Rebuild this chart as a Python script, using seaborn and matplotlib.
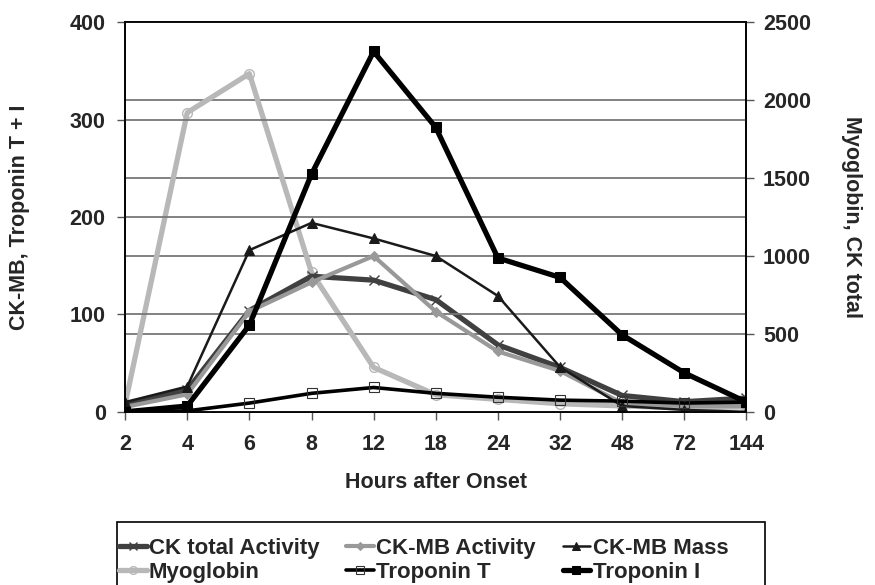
import numpy as np
import pandas as pd
import matplotlib
matplotlib.use("Agg")
import matplotlib.pyplot as plt
from matplotlib.patches import Rectangle
import seaborn as sns

# dati
hours = ["2", "4", "6", "8", "12", "18", "24", "32", "48", "72", "144"]
ck_total = [45, 140, 650, 870, 845, 720, 430, 285, 105, 65, 88]
ck_mb_activity = [5, 18, 103, 133, 160, 103, 62, 42, 9, 6, 6]
ck_mb_mass = [10, 26, 166, 194, 178, 160, 119, 46, 6, 2, 0]
myoglobin = [50, 1920, 2170, 895, 285, 110, 80, 52, 38, 25, 32]
troponin_t = [0, 1, 9, 19, 25, 19, 15, 12, 11, 9, 10]
troponin_i = [0, 6, 89, 244, 370, 292, 158, 138, 79, 40, 10]

sns.set_style("ticks")
plt.rcParams["font.family"] = ["Liberation Sans", "DejaVu Sans"]
plt.rcParams["font.weight"] = "bold"
plt.rcParams["axes.labelweight"] = "bold"
FS = 15.5

df = pd.DataFrame({
    "pos": np.arange(len(hours)),
    "ck_total": ck_total,
    "ck_mb_activity": ck_mb_activity,
    "ck_mb_mass": ck_mb_mass,
    "myoglobin": myoglobin,
    "troponin_t": troponin_t,
    "troponin_i": troponin_i,
})

fig, ax = plt.subplots(figsize=(8.75, 5.85), dpi=100)
fig.subplots_adjust(left=0.143, right=0.853, top=0.962, bottom=0.296)
ax2 = ax.twinx()

# asse destro sotto, asse sinistro sopra
ax.set_zorder(ax2.get_zorder() + 1)
ax.patch.set_visible(False)
ax2.set_facecolor("#dddddd")

# serie asse destro: Myoglobin, CK total
sns.lineplot(data=df, x="pos", y="myoglobin", ax=ax2, color="#b8b8b8", lw=3.8,
             marker="o", ms=7, mfc="none", mec="#b8b8b8", mew=1, legend=False)
sns.lineplot(data=df, x="pos", y="ck_total", ax=ax2, color="#404040", lw=3.8,
             marker="x", ms=7, mec="#404040", mew=1, legend=False)

# serie asse sinistro
sns.lineplot(data=df, x="pos", y="ck_mb_activity", ax=ax, color="#999999", lw=3,
             marker="D", ms=5, mec="#999999", legend=False)
sns.lineplot(data=df, x="pos", y="ck_mb_mass", ax=ax, color="#1a1a1a", lw=1.8,
             marker="^", ms=7, mec="#1a1a1a", legend=False)
sns.lineplot(data=df, x="pos", y="troponin_t", ax=ax, color="black", lw=2.6,
             marker="s", ms=7, mfc="none", mec="#333333", mew=0.8, legend=False)
sns.lineplot(data=df, x="pos", y="troponin_i", ax=ax, color="black", lw=3.8,
             marker="s", ms=7, mec="black", legend=False)

ax.set_xlim(0, len(hours) - 1)
ax.set_ylim(0, 400)
ax2.set_ylim(0, 2500)
ax.set_yticks([0, 100, 200, 300, 400])
ax2.set_yticks([0, 500, 1000, 1500, 2000, 2500])
ax.set_xticks(df["pos"])
ax.set_xticklabels(hours)

for a in (ax, ax2):
    a.grid(axis="y", color="#777777", lw=1.3)
    a.grid(axis="x", visible=False)
    for s in a.spines.values():
        s.set_color("black")
        s.set_linewidth(1.2)
        s.set_visible(True)
ax.tick_params(axis="y", direction="out", length=6, width=1, color="#555555",
               labelsize=FS, pad=8)
ax.tick_params(axis="x", direction="out", length=6, width=1, color="#555555",
               labelsize=FS, pad=10)
ax2.tick_params(axis="y", direction="out", length=6, width=1, color="#555555",
                labelsize=FS, pad=6)

ax.set_xlabel("Hours after Onset", fontsize=FS)
ax.set_ylabel("CK-MB, Troponin T + I", fontsize=FS, va="center", ha="center")
ax2.set_ylabel("Myoglobin, CK total", fontsize=FS, rotation=270,
               va="center", ha="center")
ax.xaxis.set_label_coords(0.5, -0.155)
ax.yaxis.set_label_coords(-0.17, 0.5)
ax2.yaxis.set_label_coords(1.17, 0.5)

right_lines = ax2.get_lines()
left_lines = ax.get_lines()
handles = [right_lines[1], right_lines[0], left_lines[0], left_lines[2],
           left_lines[1], left_lines[3]]
labels = ["CK total Activity", "Myoglobin", "CK-MB Activity", "Troponin T",
          "CK-MB Mass", "Troponin I"]
fig.legend(handles, labels, loc="upper left",
           bbox_to_anchor=(119 / 875, 1 - 538 / 585),
           ncol=3, fontsize=16, frameon=False, borderaxespad=0, borderpad=0,
           handlelength=1.25, handletextpad=0.1, columnspacing=1.2,
           labelspacing=0.14, markerscale=0.8)
# cornice della legenda
fig.patches.append(Rectangle((117 / 875, -0.02), 648 / 875, (585 - 522) / 585 + 0.02,
                             transform=fig.transFigure, fill=False,
                             ec="black", lw=1.2))

fig.savefig("out.png", dpi=100)
